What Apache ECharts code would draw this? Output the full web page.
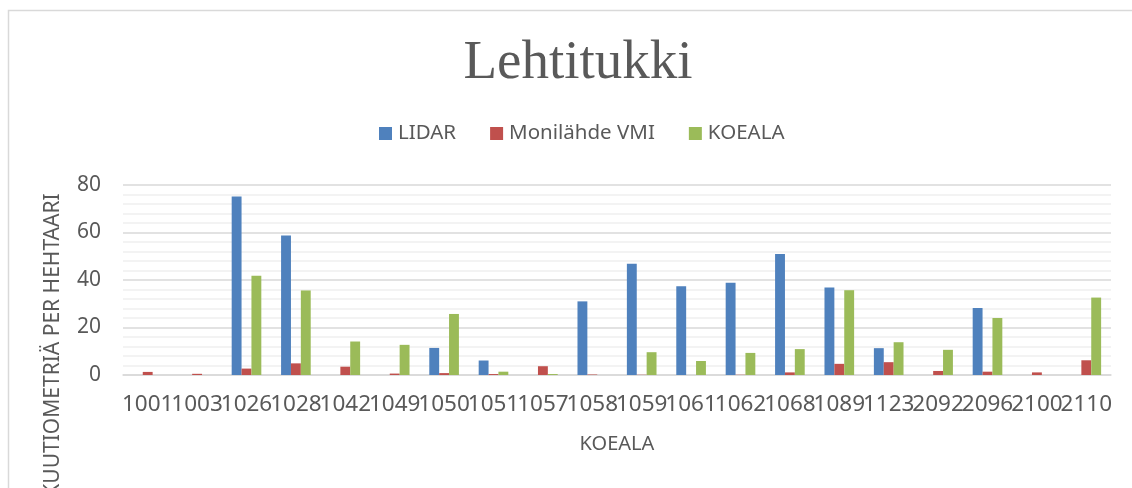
<!DOCTYPE html>
<html>
<head>
<meta charset="utf-8">
<script src="https://cdn.jsdelivr.net/npm/echarts@6/dist/echarts.min.js"></script>
<style>html,body{margin:0;padding:0;background:#fff}#c{width:1132px;height:488px}</style>
</head>
<body>
<div id="c"></div>
<script>
var categories = ['1001','1003','1026','1028','1042','1049','1050','1051','1057','1058','1059','1061','1062','1068','1089','1123','2092','2096','2100','2110'];
var lidar  = [0, 0, 75.2, 58.7, 0, 0, 11.4, 6.1, 0, 31.0, 46.8, 37.4, 38.8, 50.9, 36.8, 11.3, 0, 28.2, 0, 0];
var vmi    = [1.3, 0.5, 2.7, 4.9, 3.5, 0.6, 0.8, 0.4, 3.7, 0.2, 0.1, 0, 0.1, 1.1, 4.7, 5.4, 1.7, 1.4, 1.1, 6.2];
var koeala = [0, 0, 41.8, 35.6, 14.1, 12.7, 25.7, 1.4, 0.4, 0, 9.6, 5.9, 9.3, 10.9, 35.7, 13.8, 10.6, 24.0, 0, 32.6];
var yTicks = [0, 20, 40, 60, 80];

var txt = '#595959';
var sans = '"Noto Sans", "Open Sans", sans-serif';
var chart = echarts.init(document.getElementById('c'), null, {renderer: 'canvas'});
function bar(name, data, color) {
  return {
    name: name, type: 'bar', data: data,
    barGap: '0%', barCategoryGap: '40%',
    itemStyle: {color: color},
    emphasis: {disabled: true}
  };
}
chart.setOption({
  animation: false,
  backgroundColor: '#ffffff',
  title: {
    text: 'Lehtitukki',
    left: 573, top: 31, textAlign: 'center',
    textStyle: {fontFamily: '"Liberation Serif", serif', fontSize: 55, fontWeight: 'normal', color: txt}
  },
  legend: {
    left: 374, top: 118,
    itemWidth: 13, itemHeight: 13, itemGap: 34,
    icon: 'rect',
    textStyle: {fontFamily: sans, fontSize: 20.5, color: txt, padding: [0, 0, 0, 1]},
    data: ['LIDAR', 'Monilähde VMI', 'KOEALA']
  },
  grid: {left: 123, right: 21, top: 185, bottom: 113, containLabel: false},
  xAxis: {
    type: 'category', data: categories,
    name: 'KOEALA', nameLocation: 'middle', nameGap: 59,
    nameTextStyle: {fontFamily: sans, fontSize: 20, color: txt},
    axisLine: {lineStyle: {color: '#d9d9d9', width: 1.5}},
    axisTick: {show: false},
    axisLabel: {interval: 0, margin: 18, fontFamily: sans, fontSize: 22.5, color: txt}
  },
  yAxis: {
    type: 'value', min: yTicks[0], max: yTicks[yTicks.length - 1], interval: 20,
    axisLine: {show: false}, axisTick: {show: false},
    axisLabel: {margin: 22, fontFamily: sans, fontSize: 21, color: txt},
    splitLine: {lineStyle: {color: '#d9d9d9', width: 1.5}},
    minorTick: {show: false, splitNumber: 5},
    minorSplitLine: {show: true, lineStyle: {color: '#f0f0f0', width: 1.5}}
  },
  graphic: [
    {type: 'rect', left: 6, top: 8, shape: {x: 0, y: 0, width: 1200, height: 600},
     style: {fill: 'none', stroke: '#d9d9d9', lineWidth: 1.5}, silent: true},
    {type: 'text', x: 53, y: 345, rotation: Math.PI / 2,
     style: {text: 'KUUTIOMETRIÄ PER HEHTAARI', fontFamily: sans, fontSize: 21, fill: txt,
             textAlign: 'center', textVerticalAlign: 'middle'}, silent: true}
  ],
  series: [
    bar('LIDAR', lidar, '#4F81BD'),
    bar('Monilähde VMI', vmi, '#C0504D'),
    bar('KOEALA', koeala, '#9BBB59')
  ]
});
</script>
</body>
</html>
